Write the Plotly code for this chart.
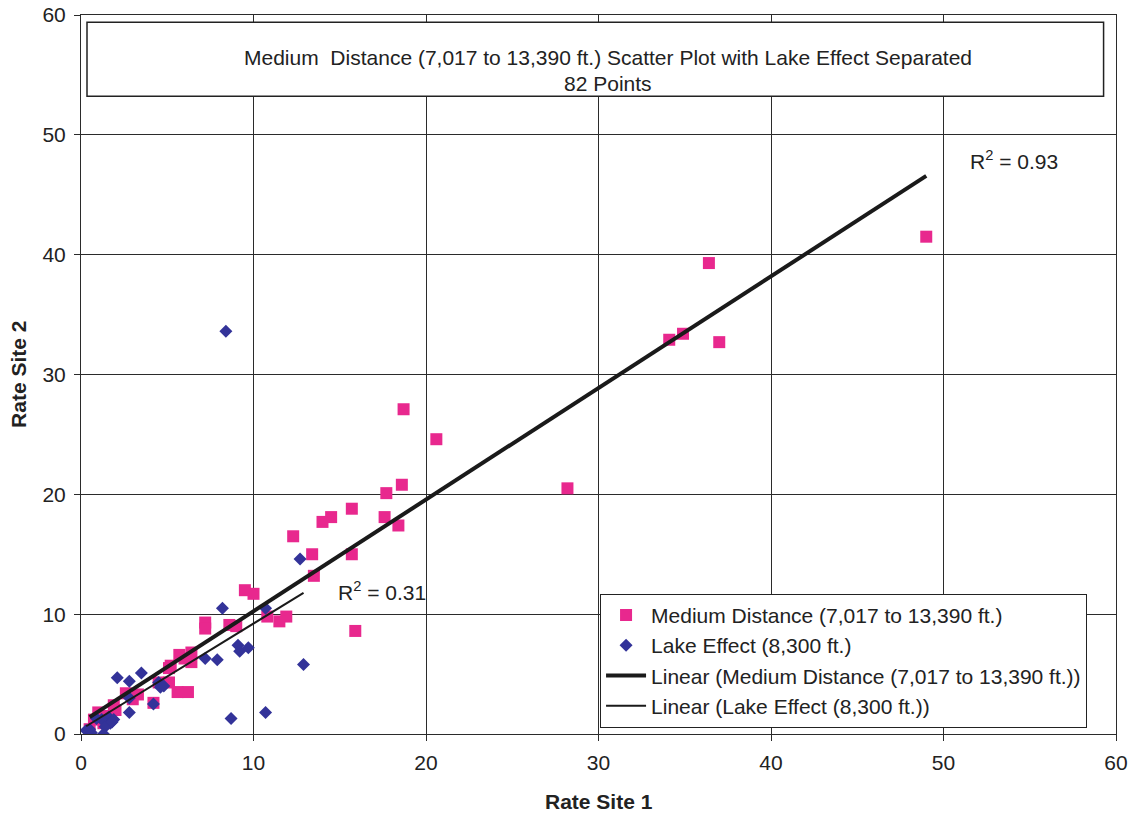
import numpy as np
import plotly.graph_objects as go

# Medium Distance (pink squares)
md_x = [49.0, 36.4, 34.1, 34.9, 37.0, 28.2, 20.6, 18.7, 18.6, 17.7, 17.6, 18.4,
        15.7, 14.5, 14.0, 12.3, 13.4, 15.7, 13.5, 15.9, 9.5, 10.0, 10.8, 11.9,
        11.5, 7.2, 7.2, 8.6, 9.0, 5.7, 6.4, 6.4, 5.2, 5.1, 5.1, 5.6, 6.2, 4.2,
        4.5, 2.6, 3.3, 1.9, 2.0, 1.0, 0.75, 0.5, 1.3, 1.5, 3.0, 6.0]
md_y = [41.5, 39.3, 32.9, 33.4, 32.7, 20.5, 24.6, 27.1, 20.8, 20.1, 18.1, 17.4,
        18.8, 18.1, 17.7, 16.5, 15.0, 15.0, 13.2, 8.6, 12.0, 11.7, 9.8, 9.8,
        9.4, 9.3, 8.8, 9.1, 9.0, 6.6, 6.8, 6.0, 5.7, 5.5, 4.3, 3.5, 3.5, 2.6,
        4.3, 3.4, 3.3, 2.4, 2.0, 1.8, 1.2, 0.4, 0.9, 1.5, 2.9, 6.3]

# Lake Effect (blue diamonds)
le_x = [8.4, 12.7, 8.2, 10.7, 9.1, 9.2, 9.7, 7.9, 7.2, 12.9, 4.6, 4.2, 8.7,
        10.7, 2.1, 2.8, 3.5, 4.5, 2.8, 2.8, 1.6, 1.9, 1.2, 1.7, 1.4, 0.3, 0.6,
        1.3, 0.9, 4.8, 1.8, 0.5]
le_y = [33.6, 14.6, 10.5, 10.5, 7.4, 6.9, 7.2, 6.2, 6.3, 5.8, 3.9, 2.5, 1.3,
        1.8, 4.7, 4.4, 5.1, 4.3, 3.0, 1.8, 1.4, 1.2, 1.2, 0.9, 0.6, 0.3, 0.1,
        0.0, 1.3, 4.0, 1.0, 0.4]

title_lines = ["Medium  Distance (7,017 to 13,390 ft.) Scatter Plot with Lake Effect Separated",
               "82 Points"]
r2_labels = ["R<sup>2</sup> = 0.93", "R<sup>2</sup> = 0.31"]
ticks = [0, 10, 20, 30, 40, 50, 60]
x_title = "Rate Site 1"
y_title = "Rate Site 2"

FONT = "Liberation Sans, Arial, sans-serif"
FS = 21
TXT = "#222222"
PINK = "#E8288E"
BLUE = "#333399"


def trend(x, y):
    x = np.asarray(x)
    y = np.asarray(y)
    m, b = np.polyfit(x, y, 1)
    xs = np.array([x.min(), x.max()])
    return xs, m * xs + b


md_tx, md_ty = trend(md_x, md_y)
le_tx, le_ty = trend(le_x, le_y)

fig = go.Figure()
fig.add_trace(go.Scatter(x=md_x, y=md_y, mode="markers",
                         name="Medium Distance (7,017 to 13,390 ft.)",
                         marker=dict(symbol="square", size=12, color=PINK)))
fig.add_trace(go.Scatter(x=le_x, y=le_y, mode="markers",
                         name="Lake Effect (8,300 ft.)",
                         marker=dict(symbol="diamond", size=10, color=BLUE)))
fig.add_trace(go.Scatter(x=md_tx, y=md_ty, mode="lines",
                         name="Linear (Medium Distance (7,017 to 13,390 ft.))",
                         line=dict(color="#1a1a1a", width=4)))
fig.add_trace(go.Scatter(x=le_tx, y=le_ty, mode="lines",
                         name="Linear (Lake Effect (8,300 ft.))",
                         line=dict(color="#1a1a1a", width=2)))

axis_common = dict(range=[0, 60], tickvals=ticks, showgrid=True, gridcolor="#2b2b2b",
                   gridwidth=1, zeroline=False, showline=True, linecolor="#2b2b2b",
                   linewidth=1, mirror=True, ticks="outside", ticklen=6,
                   tickcolor="#2b2b2b", automargin=False, ticklabeloverflow="allow",
                   tickfont=dict(family=FONT, size=FS, color=TXT))

fig.update_layout(
    width=1133, height=817,
    margin=dict(l=81, r=17, t=15, b=83),
    paper_bgcolor="white", plot_bgcolor="white",
    font=dict(family=FONT, color=TXT),
    xaxis=dict(axis_common, ticklabelstandoff=4),
    yaxis=dict(axis_common, ticklabelstandoff=4),
    legend=dict(x=0.5015, y=0.195, xanchor="left", yanchor="top",
                bgcolor="white", bordercolor="#222", borderwidth=1,
                font=dict(family=FONT, size=FS, color=TXT),
                tracegroupgap=0, itemwidth=40),
    showlegend=True,
)

# axis titles
fig.add_annotation(xref="paper", yref="paper", x=0.5, y=-0.094, yanchor="middle",
                   text="<b>" + x_title + "</b>", showarrow=False,
                   font=dict(family=FONT, size=FS, color=TXT))
fig.add_annotation(xref="paper", yref="paper", x=-0.0605, y=0.5, xanchor="center",
                   text="<b>" + y_title + "</b>", showarrow=False, textangle=-90,
                   font=dict(family=FONT, size=FS, color=TXT))

# title box
fig.add_shape(type="rect", xref="paper", yref="paper", x0=0.0058, x1=0.988,
              y0=0.887, y1=0.990, line=dict(color="#222", width=1.5), fillcolor="white",
              layer="above")
fig.add_annotation(xref="paper", yref="paper", x=0.509, y=0.960, text=title_lines[0],
                   showarrow=False, font=dict(family=FONT, size=FS, color=TXT))
fig.add_annotation(xref="paper", yref="paper", x=0.509, y=0.923, text=title_lines[1],
                   showarrow=False, font=dict(family=FONT, size=FS, color=TXT))

fig.add_annotation(x=51.4, y=47.9, text=r2_labels[0], showarrow=False, xanchor="left",
                   font=dict(family=FONT, size=FS, color=TXT))
fig.add_annotation(x=14.8, y=11.9, text=r2_labels[1], showarrow=False, xanchor="left",
                   font=dict(family=FONT, size=FS, color=TXT))

# remove the page's default body margin so the figure sits at the window origin
fig.write_html("out.html", config={"displayModeBar": False},
               post_script="document.body.style.margin='0';")
